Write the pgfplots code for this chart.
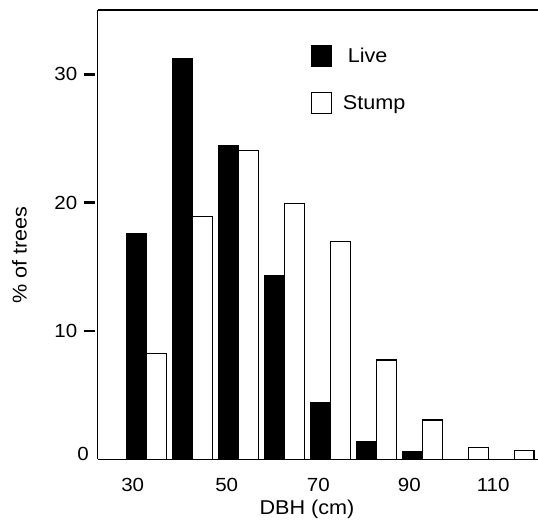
\documentclass[border=0pt]{standalone}
\usepackage{fontspec}
\setmainfont[FakeStretch=1.08]{Liberation Sans}
\usepackage{pgfplots}
\pgfplotsset{compat=1.18}

\begin{document}
\begin{tikzpicture}
\begin{axis}[
    at={(0,0)}, anchor=origin,
    scale only axis,
    width=440.3pt,
    height=449.5pt,
    xmin=19.39, xmax=115.15,
    ymin=0, ymax=35,
    axis x line=box,
    axis y line=left,
    axis line style={-, line width=1.6pt},
    ybar,
    bar width=4.3,
    xtick={27.0,47.44,67.36,87.16,105.4},
    xticklabels={30,50,70,90,110},
    xtick style={draw=none},
    ytick={10,20,30},
    extra y ticks={0},
    extra y tick style={ytick style={draw=none}, yticklabel style={xshift=11.5pt, yshift=6pt}},
    tick align=outside,
    major tick length=11pt,
    ytick style={line width=2.6pt, xshift=-3pt, black},
    /pgf/number format/assume math mode=true,
    tick label style={font=\fontsize{19}{22}\selectfont},
    xticklabel style={yshift=-4pt},
    yticklabel style={xshift=-6pt},
    xlabel={DBH (cm)},
    ylabel={\% of trees},
    label style={font=\fontsize{20}{24}\selectfont},
    xlabel style={at={(axis description cs:0.4754,-0.110)}, anchor=center},
    ylabel style={at={(axis description cs:-0.1776,0.455)}, anchor=center},
    legend style={draw=none, fill=none, inner sep=0pt,
        at={(axis description cs:0.4844,0.9221)}, anchor=north west,
        font=\fontsize{20}{24}\selectfont, row sep=25pt,
        /tikz/every odd column/.append style={column sep=9pt}},
    legend cell align=left,
    clip=false,
]
\addplot[fill=black, draw=black, line width=0.8pt, bar shift=-2.15,
    legend image code/.code={\draw[fill=black, draw=black, line width=1pt] (0pt,-10.5pt) rectangle (19.5pt,10.5pt);}]
coordinates {
(30,17.6) (40,31.2) (50,24.45) (60,14.3) (70,4.42) (80,1.44) (90,0.6) (100,0) (110,0)
};
\addlegendentry{\hspace{5pt}Live}

\addplot[fill=white, draw=black, line width=1.2pt, bar shift=2.15,
    legend image code/.code={\draw[fill=white, draw=black, line width=1.2pt] (0pt,-10.5pt) rectangle (19.5pt,10.5pt);}]
coordinates {
(30,8.23) (40,18.9) (50,24.06) (60,19.94) (70,17.0) (80,7.74) (90,3.07) (100,0.92) (110,0.68)
};
\addlegendentry{Stump}
\end{axis}
\pgfresetboundingbox
\path[use as bounding box] (-97.7pt,-61.5pt) rectangle (440.3pt,459.5pt);
\end{tikzpicture}
\end{document}
